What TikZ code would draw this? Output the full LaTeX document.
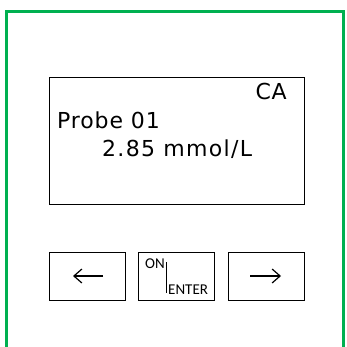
\documentclass[tikz,border=0pt]{standalone}
\usepackage{fontspec}
\setmainfont{DejaVu Sans}
\newfontfamily\keyfont{Carlito}
\usetikzlibrary{arrows.meta}
\definecolor{framegreen}{RGB}{0,176,80}
\begin{document}
\begin{tikzpicture}[x=1pt,y=-1pt,
	box/.style={draw,line width=0.9pt,inner sep=0pt,anchor=north west},
	lcd/.style={font=\fontsize{22}{24}\selectfont\addfontfeature{LetterSpace=4},inner sep=0pt},
	key/.style={font=\keyfont\fontsize{15}{17}\selectfont,inner sep=0pt},
	keyarrow/.style={line width=1.2pt,-{Straight Barb[length=8pt,width=14pt,line width=1.2pt]}}]
	\useasboundingbox (0,0) rectangle (346,347);
	\draw[framegreen,line width=3pt] (6.5,347) -- (6.5,12) -- (343.5,12) -- (343.5,347);
	% Anzeige
	\node[box,minimum width=255pt,minimum height=127pt] (display) at (49,77) {};
	\node[lcd,anchor=base east] (mode) at (287,100) {CA};
	\node[lcd,anchor=base west] (probe) at (57,129) {Probe 01};
	\node[lcd,anchor=base west,font=\fontsize{22}{24}\selectfont\addfontfeature{LetterSpace=6}] (value) at (102,157) {2.85 mmol/L};
	% Tasten
	\node[box,minimum width=76pt,minimum height=48pt] (btnleft) at (49,252) {};
	\node[box,minimum width=76pt,minimum height=48pt] (btnenter) at (138,252) {};
	\node[box,minimum width=76pt,minimum height=48pt] (btnright) at (228,252) {};
	\coordinate (lefttail) at (103,276);
	\coordinate (lefthead) at (73,276);
	\coordinate (righttail) at (250,276);
	\coordinate (righthead) at (281,276);
	\draw[keyarrow] (lefttail) -- (lefthead);
	\draw[keyarrow] (righttail) -- (righthead);
	\node[key,anchor=base west] (on) at (145,268) {ON};
	\node[key,anchor=base west] (enter) at (168,294) {ENTER};
	\draw[line width=0.9pt] (166,262) -- (166,293);
\end{tikzpicture}
\end{document}
